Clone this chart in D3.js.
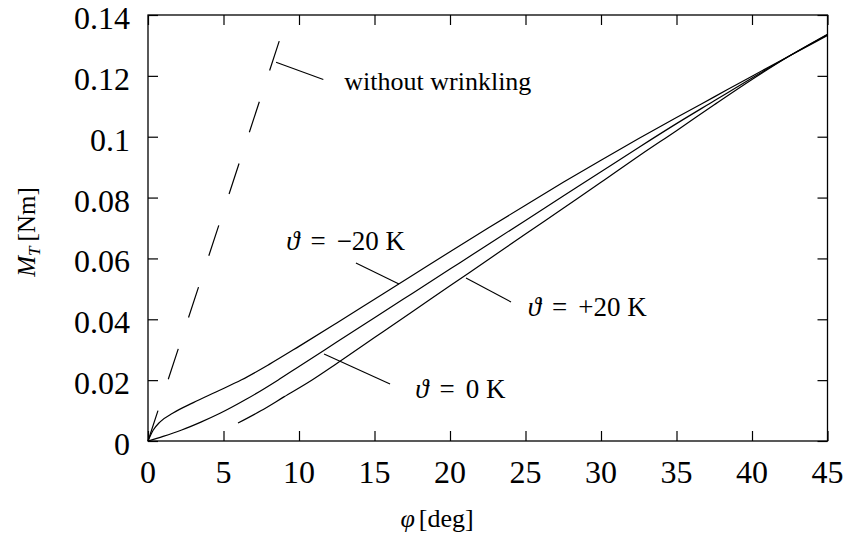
<!DOCTYPE html>
<html>
<head>
<meta charset="utf-8">
<script src="https://cdn.jsdelivr.net/npm/d3@7"></script>
<style>
  html, body { margin: 0; padding: 0; background: #fff; }
  svg { display: block; }
  text { font-family: "Liberation Serif", "Times New Roman", serif; fill: #000; }
</style>
</head>
<body>
<svg id="chart" width="849" height="540"></svg>
<script>
// ---- data ----
const xTicks = [0, 5, 10, 15, 20, 25, 30, 35, 40, 45];
const yTicks = [0, 0.02, 0.04, 0.06, 0.08, 0.1, 0.12, 0.14];
const yTickLabels = ["0", "0.02", "0.04", "0.06", "0.08", "0.1", "0.12", "0.14"];

// theta = -20 K
const phiMinus20 = [0, 0.35, 0.8, 1.66, 3, 4.5, 6.2, 8, 10, 12.5, 15, 17.5, 20, 22.5, 25, 27.5, 30, 32.5, 35, 37.5, 40, 42.5, 45];
const mMinus20   = [0, 0.0036, 0.0063, 0.0092, 0.0126, 0.0161, 0.0201, 0.0251, 0.0311, 0.0388, 0.0466, 0.0544, 0.0622, 0.0699, 0.0775, 0.0850, 0.0923, 0.0994, 0.1063, 0.1131, 0.1199, 0.1266, 0.1333];

// theta = 0 K
const phiZero = [0, 1, 2.23, 3.5, 4.77, 6.5, 8.6, 10, 12.5, 15, 17.5, 20, 22.5, 25, 27.5, 30, 32.6, 35, 37.5, 40, 42.5, 45];
const mZero   = [0, 0.0015, 0.0036, 0.0062, 0.0091, 0.0137, 0.0200, 0.0245, 0.0325, 0.0405, 0.0485, 0.0565, 0.0645, 0.0725, 0.0805, 0.0885, 0.0968, 0.1043, 0.1118, 0.1193, 0.1266, 0.1335];

// theta = +20 K
const phiPlus20 = [5.96, 7.5, 9, 10.84, 12.5, 15, 17.5, 20, 22.5, 25, 27.5, 30, 32.6, 35, 37.5, 40, 42.5, 45];
const mPlus20   = [0.0059, 0.0100, 0.0145, 0.0200, 0.0255, 0.0340, 0.0425, 0.0510, 0.0595, 0.0680, 0.0765, 0.0850, 0.0940, 0.1020, 0.1105, 0.1188, 0.1266, 0.1337];

// without wrinkling (dashed)
const phiRigid = [0, 8.69];
const mRigid   = [0, 0.1314];

// annotations: label texts, pointer lines and label anchors (data coordinates)
const annLabels = ["without wrinkling", "−20 K", "+20 K", "0 K"];
const annPointers = [
  [[8.48, 0.1245], [11.61, 0.1188]],
  [[13.77, 0.0585], [16.62, 0.0516]],
  [[21.06, 0.0536], [24.04, 0.0457]],
  [[11.66, 0.0286], [16.03, 0.0187]]
];
const annAnchors = [[13.0, 0.1155], [9.15, 0.0628], [25.15, 0.0411], [17.7, 0.0141]];

// ---- layout ----
const svg = d3.select("#chart");
const mLeft = 148, mRight = 827.5, mTop = 15, mBottom = 441;
const x = d3.scaleLinear().domain([0, 45]).range([mLeft, mRight]);
const y = d3.scaleLinear().domain([0, 0.14]).range([mBottom, mTop]);
const tickLen = 10;

const g = svg.append("g");

// ticks (mirrored, inward)
g.append("g").attr("transform", `translate(0,${mBottom})`)
  .call(d3.axisBottom(x).tickValues(xTicks).tickSize(-tickLen).tickFormat(""))
  .call(s => s.select(".domain").remove());
g.append("g").attr("transform", `translate(0,${mTop})`)
  .call(d3.axisTop(x).tickValues(xTicks).tickSize(-tickLen).tickFormat(""))
  .call(s => s.select(".domain").remove());
g.append("g").attr("transform", `translate(${mLeft},0)`)
  .call(d3.axisLeft(y).tickValues(yTicks).tickSize(-tickLen).tickFormat(""))
  .call(s => s.select(".domain").remove());
g.append("g").attr("transform", `translate(${mRight},0)`)
  .call(d3.axisRight(y).tickValues(yTicks).tickSize(-tickLen).tickFormat(""))
  .call(s => s.select(".domain").remove());
g.selectAll(".tick line").attr("stroke", "#000").attr("stroke-width", 1.2);

// tick labels
g.selectAll(".xlab").data(xTicks).enter().append("text")
  .attr("x", d => x(d)).attr("y", mBottom + 42)
  .attr("text-anchor", "middle").attr("font-size", 32).text(d => d);
g.selectAll(".ylab").data(yTicks).enter().append("text")
  .attr("x", mLeft - 18).attr("y", d => y(d) + 14)
  .attr("text-anchor", "end").attr("font-size", 32).text((d, i) => yTickLabels[i]);

// curves
const line = d3.line().x(d => x(d[0])).y(d => y(d[1])).curve(d3.curveMonotoneX);
const series = [
  [phiMinus20, mMinus20],
  [phiZero, mZero],
  [phiPlus20, mPlus20]
];
series.forEach(([px, py]) => {
  g.append("path").datum(px.map((p, i) => [p, py[i]]))
    .attr("d", line).attr("fill", "none").attr("stroke", "#000").attr("stroke-width", 1.2);
});
g.append("path").datum(phiRigid.map((p, i) => [p, mRigid[i]]))
  .attr("d", d3.line().x(d => x(d[0])).y(d => y(d[1])))
  .attr("fill", "none").attr("stroke", "#000").attr("stroke-width", 1.2)
  .attr("stroke-dasharray", "32,33");

// pointer lines
annPointers.forEach(p => {
  g.append("line").attr("x1", x(p[0][0])).attr("y1", y(p[0][1]))
    .attr("x2", x(p[1][0])).attr("y2", y(p[1][1]))
    .attr("stroke", "#000").attr("stroke-width", 1.1);
});

// annotation labels
annLabels.forEach((lab, i) => {
  const t = g.append("text").attr("x", x(annAnchors[i][0])).attr("y", y(annAnchors[i][1]));
  if (i === 0) {
    t.attr("font-size", 26).text(lab);
  } else {
    t.attr("font-size", 27);
    t.append("tspan").attr("font-style", "italic").text("ϑ");
    t.append("tspan").attr("dx", 11).text("=");
    t.append("tspan").attr("dx", 11).text(lab);
  }
});

// frame
g.append("rect").attr("x", mLeft).attr("y", mTop).attr("width", mRight - mLeft).attr("height", mBottom - mTop)
  .attr("fill", "none").attr("stroke", "#000").attr("stroke-width", 1.3);

// axis titles
const xt = svg.append("text").attr("x", 437).attr("y", 527).attr("text-anchor", "middle").attr("font-size", 26);
xt.append("tspan").attr("font-style", "italic").text("φ");
xt.append("tspan").attr("dx", 4).text("[deg]");

const yt = svg.append("text").attr("transform", "translate(35,232) rotate(-90)")
  .attr("text-anchor", "middle").attr("font-size", 25);
yt.append("tspan").attr("font-style", "italic").text("M");
yt.append("tspan").attr("font-style", "italic").attr("font-size", 17).attr("dy", 5).text("T");
yt.append("tspan").attr("dy", -5).attr("dx", 5).text("[Nm]");
</script>
</body>
</html>
